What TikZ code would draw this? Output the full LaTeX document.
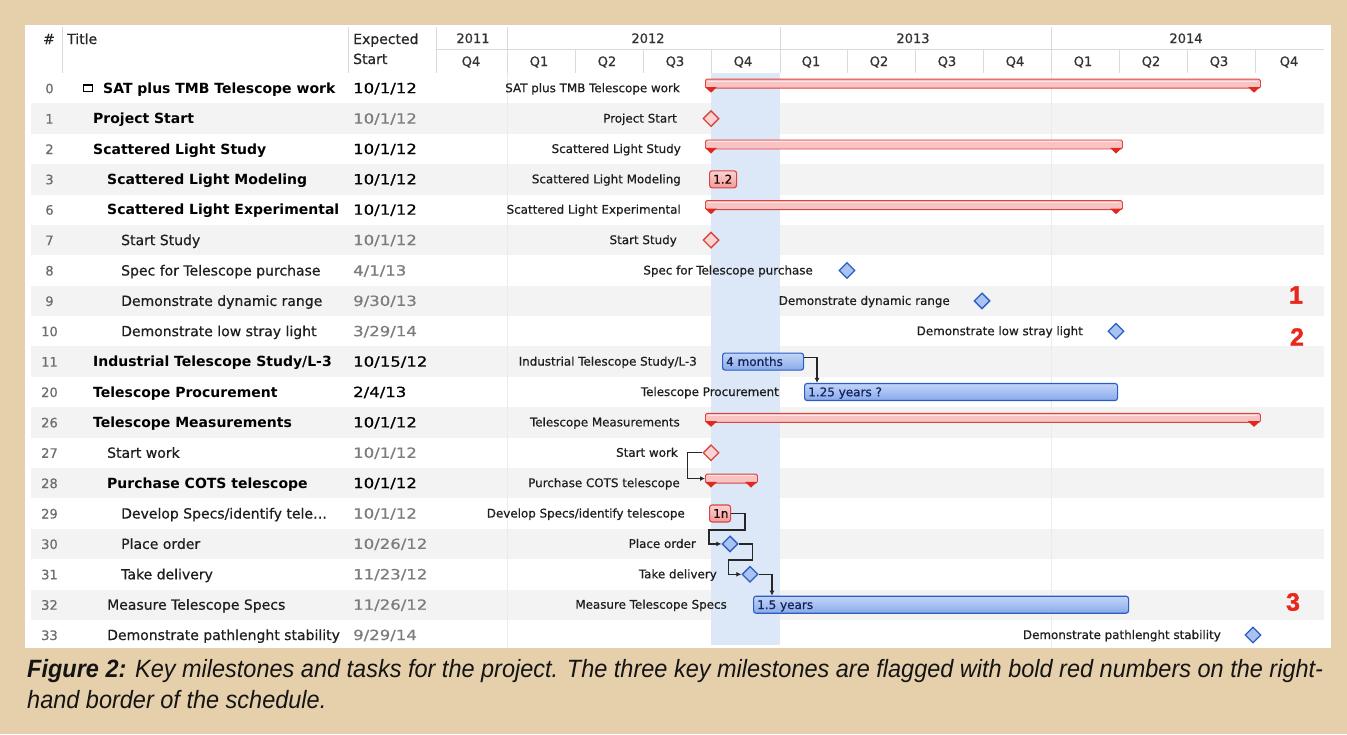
\documentclass[tikz,border=0pt]{standalone}
\usepackage{fontspec}
\setmainfont{DejaVu Sans}
\newfontfamily\medfont[FakeBold=0.6]{DejaVu Sans}
\newfontfamily\capfont{Liberation Sans}
\newfontfamily\keyfont[FakeBold=1.5]{Liberation Sans}
\usetikzlibrary{shapes.geometric,arrows.meta}
\definecolor{beige}{HTML}{E6D0AC}
\definecolor{rowgrey}{HTML}{F3F3F3}
\definecolor{bandblue}{HTML}{DCE7F8}
\definecolor{gridl}{HTML}{EBEBEB}
\definecolor{hdrline}{HTML}{DADADA}
\definecolor{redfill}{HTML}{F9C3C3}
\definecolor{redline}{HTML}{D8463F}
\definecolor{redtri}{HTML}{E0281E}
\definecolor{redtop}{HTML}{FBD3D3}
\definecolor{redbot}{HTML}{F29A9A}
\definecolor{bluefill}{HTML}{A9C3F0}
\definecolor{bluetop}{HTML}{C2D5F7}
\definecolor{bluebot}{HTML}{89AAEA}
\definecolor{blueline}{HTML}{2C5CC5}
\definecolor{navy}{HTML}{14245A}
\definecolor{numgrey}{HTML}{6E6E6E}
\definecolor{dategrey}{HTML}{7C7C7C}
\definecolor{labtxt}{HTML}{1E1E1E}
\definecolor{keyred}{HTML}{E8281C}
\newlength\caplen
\newcommand\capline{\capfont\fontsize{25}{30}\selectfont\itshape\textbf{Figure 2:} Key milestones and tasks for the project. The three key milestones are flagged with bold red numbers on the right-}
% table row: #1 number, #2 y, #3 x of title, #4 title style, #5 title, #6 date, #7 date colour
\newcommand\tabrow[7]{%
  \node[numtxt] (num#1) at (49.5,#2+5) {#1};
  \node[#4] (title#1) at (#3,#2+5) {#5};
  \node[datetxt,text=#7] (date#1) at (353,#2+5) {\scalebox{1.18}[1]{#6}};}
% summary bar: #1 name, #2 x1, #3 x2, #4 row y
\newcommand\sbar[4]{%
  \node[sumbarst, minimum width={#3-#2}, anchor=north west] (#1) at (#2,#4-9.5) {};
  \draw[white, opacity=0.6, line width=1pt] (#2+3,#4-7.2) -- (#3-3,#4-7.2);
  \fill[redtri] (#2,#4-1.2) -- (#2+12,#4-1.2) -- (#2+6,#4+4.5) -- cycle;
  \fill[redtri] (#3-12,#4-1.2) -- (#3,#4-1.2) -- (#3-6,#4+4.5) -- cycle;}
% task box: #1 name, #2 style, #3 x1, #4 x2, #5 y, #6 text
\newcommand\tbox[6]{%
  \node[#2, minimum width={#4-#3}, anchor=west] (#1) at (#3,#5) {};
  \node[bartxt] (#1t) at (#3+4,#5+4.3) {#6};}
\begin{document}
\settowidth\caplen{\capline}%
\pgfmathsetmacro\capsc{1296/\caplen}%
\begin{tikzpicture}[x=1pt,y=-1pt,
  numtxt/.style={inner sep=0, font=\medfont\fontsize{13}{15}\selectfont, text=numgrey, anchor=base},
  titleb/.style={inner sep=0, font=\fontsize{14}{16}\selectfont\bfseries, text=black, anchor=base west},
  titlen/.style={inner sep=0, font=\medfont\fontsize{14}{16}\selectfont, text=labtxt, anchor=base west},
  datetxt/.style={inner sep=0, font=\medfont\fontsize{14}{16}\selectfont, anchor=base west},
  clab/.style={inner sep=0, font=\medfont\fontsize{11.9}{14}\selectfont, text=labtxt, anchor=base east},
  hdr/.style={inner sep=0, font=\medfont\fontsize{14}{16}\selectfont, text=black!85, anchor=base west},
  yr/.style={inner sep=0, font=\medfont\fontsize{13}{15}\selectfont, text=black!80, anchor=base},
  sumbarst/.style={draw=redline, fill=redfill, line width=0.9pt, rounded corners=1.5pt, minimum height=9pt, inner sep=0},
  bluebox/.style={draw=blueline, top color=bluetop, bottom color=bluebot, line width=1.1pt, rounded corners=2.5pt, inner sep=0, minimum height=17pt},
  redbox/.style={draw=redline, top color=redtop, bottom color=redbot, line width=1.1pt, rounded corners=2.5pt, inner sep=0, minimum height=17pt},
  bartxt/.style={inner sep=0, font=\medfont\fontsize{12}{14}\selectfont, text=navy, anchor=base west},
  bluedia/.style={diamond, draw=blueline, fill=bluefill, line width=1.3pt, inner sep=0, minimum width=16pt, minimum height=16pt},
  reddia/.style={diamond, draw=redline, fill=redtop, line width=1.3pt, inner sep=0, minimum width=16pt, minimum height=16pt},
  conn/.style={draw=black!85, line width=1.3pt, -{Latex[length=5pt,width=5pt]}},
  keynum/.style={inner sep=0, font=\keyfont\fontsize{25}{28}\selectfont\bfseries, text=keyred}]
\useasboundingbox (0,0) rectangle (1347,734);
\fill[beige] (0,0) rectangle (1347,734);
\fill[white] (25,25) rectangle (1331,648);
% alternating rows
\foreach \yy in {118.6,179.3,240.1,300.9,361.6,422.4,483.1,543.9,604.7}
  \fill[rowgrey] (31,\yy-15.2) rectangle (1324,\yy+15.2);
% year grid lines in body and current quarter band
\draw[gridl, line width=0.8pt] (507,73) -- (507,648) (1051,73) -- (1051,648);
\fill[bandblue] (711,73) rectangle (780,645);
% header lines
\draw[hdrline, line width=0.8pt] (62,27) -- (62,73) (348,27) -- (348,73) (436,27) -- (436,73)
  (436,49) -- (1324,49)
  (507,27) -- (507,73) (780,27) -- (780,73) (1051,27) -- (1051,73);
\foreach \qx in {575,643,711,847,915,983,1119,1187,1255}
  \draw[hdrline, line width=0.8pt] (\qx,49) -- (\qx,73);
% header texts
\node[hdr, anchor=base] (hnum) at (49,44) {\#};
\node[hdr] (htitle) at (67,44) {Title};
\node[hdr] (hexp) at (353,44) {Expected};
\node[hdr] (hstart) at (353,64) {Start};
\node[yr] (y2011) at (473,43) {2011};
\node[yr] (y2012) at (648,43) {2012};
\node[yr] (y2013) at (913,43) {2013};
\node[yr] (y2014) at (1186,43) {2014};
\node[yr] (q0) at (471,66) {Q4};
\node[yr] (q1) at (539,66) {Q1};
\node[yr] (q2) at (607,66) {Q2};
\node[yr] (q3) at (675,66) {Q3};
\node[yr] (q4) at (743,66) {Q4};
\node[yr] (q5) at (811,66) {Q1};
\node[yr] (q6) at (879,66) {Q2};
\node[yr] (q7) at (947,66) {Q3};
\node[yr] (q8) at (1015,66) {Q4};
\node[yr] (q9) at (1083,66) {Q1};
\node[yr] (q10) at (1151,66) {Q2};
\node[yr] (q11) at (1219,66) {Q3};
\node[yr] (q12) at (1289,66) {Q4};
% table rows
\tabrow{0}{88.2}{103}{titleb}{SAT plus TMB Telescope work}{10/1/12}{black}
\draw[black, line width=1pt] (83.5,84) rectangle (92,91.5);
\fill[black] (83.5,84) rectangle (92,86);
\tabrow{1}{118.6}{93}{titleb}{Project Start}{10/1/12}{dategrey}
\tabrow{2}{149.0}{93}{titleb}{Scattered Light Study}{10/1/12}{black}
\tabrow{3}{179.3}{107}{titleb}{Scattered Light Modeling}{10/1/12}{black}
\tabrow{6}{209.7}{107}{titleb}{Scattered Light Experimental}{10/1/12}{black}
\tabrow{7}{240.1}{121}{titlen}{Start Study}{10/1/12}{dategrey}
\tabrow{8}{270.5}{121}{titlen}{Spec for Telescope purchase}{4/1/13}{dategrey}
\tabrow{9}{300.9}{121}{titlen}{Demonstrate dynamic range}{9/30/13}{dategrey}
\tabrow{10}{331.2}{121}{titlen}{Demonstrate low stray light}{3/29/14}{dategrey}
\tabrow{11}{361.6}{93}{titleb}{Industrial Telescope Study/L-3}{10/15/12}{black}
\tabrow{20}{392.0}{93}{titleb}{Telescope Procurement}{2/4/13}{black}
\tabrow{26}{422.4}{93}{titleb}{Telescope Measurements}{10/1/12}{black}
\tabrow{27}{452.8}{107}{titlen}{Start work}{10/1/12}{dategrey}
\tabrow{28}{483.1}{107}{titleb}{Purchase COTS telescope}{10/1/12}{black}
\tabrow{29}{513.5}{121}{titlen}{Develop Specs/identify tele…}{10/1/12}{dategrey}
\tabrow{30}{543.9}{121}{titlen}{Place order}{10/26/12}{dategrey}
\tabrow{31}{574.3}{121}{titlen}{Take delivery}{11/23/12}{dategrey}
\tabrow{32}{604.7}{107}{titlen}{Measure Telescope Specs}{11/26/12}{dategrey}
\tabrow{33}{635.0}{107}{titlen}{Demonstrate pathlenght stability}{9/29/14}{dategrey}
% chart labels
\node[clab] (l0) at (680,92.2) {SAT plus TMB Telescope work};
\node[clab] (l1) at (677,122.6) {Project Start};
\node[clab] (l2) at (681,153.0) {Scattered Light Study};
\node[clab] (l3) at (681,183.3) {Scattered Light Modeling};
\node[clab] (l6) at (681,213.7) {Scattered Light Experimental};
\node[clab] (l7) at (677,244.1) {Start Study};
\node[clab] (l8) at (813,274.5) {Spec for Telescope purchase};
\node[clab] (l9) at (950,304.9) {Demonstrate dynamic range};
\node[clab] (l10) at (1083,335.2) {Demonstrate low stray light};
\node[clab] (l11) at (697,365.6) {Industrial Telescope Study/L-3};
\node[clab] (l20) at (779,396.0) {Telescope Procurement};
\node[clab] (l26) at (680,426.4) {Telescope Measurements};
\node[clab] (l27) at (678,456.8) {Start work};
\node[clab] (l28) at (680,487.1) {Purchase COTS telescope};
\node[clab] (l29) at (685,517.5) {Develop Specs/identify telescope};
\node[clab] (l30) at (696,547.9) {Place order};
\node[clab] (l31) at (717,578.3) {Take delivery};
\node[clab] (l32) at (727,608.7) {Measure Telescope Specs};
\node[clab] (l33) at (1221,639.0) {Demonstrate pathlenght stability};
% summary bars
\sbar{sb0}{705}{1260}{88.2}
\sbar{sb2}{705}{1122}{149.0}
\sbar{sb6}{705}{1122}{209.7}
\sbar{sb26}{705}{1260}{422.4}
\sbar{sb28}{705}{757}{483.1}
% task boxes
\tbox{tb3}{redbox}{709}{736}{179.3}{\color{black!85!red}1.2}
\tbox{tb11}{bluebox}{722}{803}{361.6}{4 months}
\tbox{tb20}{bluebox}{804}{1117}{392.0}{1.25 years ?}
\tbox{tb29}{redbox}{709}{730}{513.5}{\color{black!85!red}1n}
\tbox{tb32}{bluebox}{753}{1128}{604.7}{1.5 years}
% milestones
\node[reddia] (m1) at (711,118.6) {};
\node[reddia] (m7) at (711,240.1) {};
\node[bluedia] (m8) at (847,270.5) {};
\node[bluedia] (m9) at (982,300.9) {};
\node[bluedia] (m10) at (1116,331.2) {};
\node[reddia] (m27) at (711,452.8) {};
\node[bluedia] (m30) at (730,543.9) {};
\node[bluedia] (m31) at (750,574.3) {};
\node[bluedia] (m33) at (1253,635.0) {};
% dependency connectors
\draw[conn] ([yshift=4pt]tb11.east) -| ([xshift=13pt]tb20.north west);
\draw[conn] (m27.west) -- ++(-15,0) |- (sb28.west);
\draw[conn] (tb29.east) -- ++(14,0) -- ++(0,16.5) -- ++(-36,0) |- (m30.west);
\draw[conn] (m30.east) -- ++(14,0) -- ++(0,16) -- ++(-24,0) |- (m31.west);
\draw[conn] (m31.east) -| ([xshift=19pt]tb32.north west);
% key milestone flags
\node[keynum] (k1) at (1296,295) {1};
\node[keynum] (k2) at (1297,337) {2};
\node[keynum] (k3) at (1293,602) {3};
% caption
\node[inner sep=0, anchor=base west, text=black!92] (cap1) at (27,677) {\scalebox{\capsc}[1]{\capline}};
\node[inner sep=0, anchor=base west, text=black!92] (cap2) at (27,708) {\scalebox{\capsc}[1]{\capfont\fontsize{25}{30}\selectfont\itshape hand border of the schedule.}};
\end{tikzpicture}
\end{document}
